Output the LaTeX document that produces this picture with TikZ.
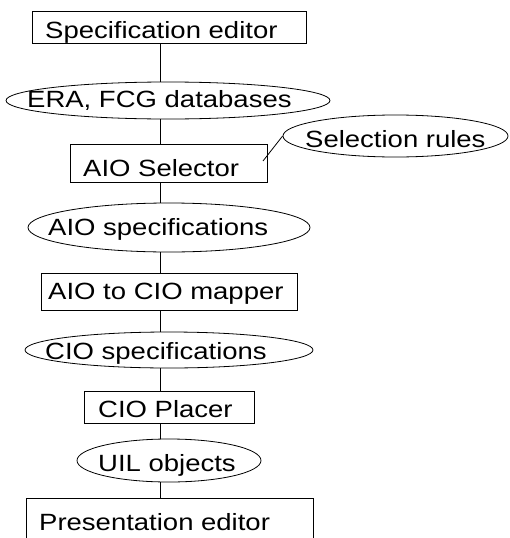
\documentclass[tikz,border=0pt]{standalone}
\usepackage{fontspec}
\setmainfont{Liberation Sans}[FakeStretch=1.17]
\usetikzlibrary{shapes.geometric}

\tikzset{
  stage/.style={draw=black, line width=0.8pt, rectangle, inner sep=0pt},
  dataset/.style={draw=black, line width=0.8pt, ellipse, inner sep=0pt},
  caption/.style={anchor=base west, inner sep=0pt,
    font=\fontsize{23.5}{28}\selectfont},
  link/.style={draw=black, line width=0.8pt}
}

\begin{document}
\begin{tikzpicture}[x=1pt, y=-1pt]
  \useasboundingbox (0,0) rectangle (510,538);
  \clip (0,0) rectangle (510,538);

  % x position of the main flow line
  \coordinate (axis) at (160,0);

  % processing stages and data sets
  \node[stage, minimum width=274pt, minimum height=32pt] (spec) at (169,27) {};
  \node[dataset, minimum width=324pt, minimum height=37pt] (era) at (168,100.5) {};
  \node[stage, minimum width=197pt, minimum height=38pt] (sel) at (168.5,163) {};
  \node[dataset, minimum width=225pt, minimum height=42pt] (rules) at (395.5,136) {};
  \node[dataset, minimum width=282pt, minimum height=49pt] (aiospec) at (169,227.5) {};
  \node[stage, minimum width=256pt, minimum height=37pt] (mapper) at (169,291.5) {};
  \node[dataset, minimum width=288pt, minimum height=36pt] (ciospec) at (169,350) {};
  \node[stage, minimum width=170pt, minimum height=32pt] (placer) at (169,407) {};
  \node[dataset, minimum width=184pt, minimum height=43pt] (uil) at (169,460.5) {};
  \node[stage, minimum width=287pt, minimum height=80pt] (pres) at (169.5,538) {};

  % labels
  \node[caption] (spec-t) at (45,38) {Specification editor};
  \node[caption] (era-t) at (27,107) {ERA, FCG databases};
  \node[caption] (rules-t) at (305,147) {Selection rules};
  \node[caption] (sel-t) at (83,176.5) {AIO Selector};
  \node[caption] (aiospec-t) at (48,235) {AIO specifications};
  \node[caption] (mapper-t) at (48,299) {AIO to CIO mapper};
  \node[caption] (ciospec-t) at (45,359) {CIO specifications};
  \node[caption] (placer-t) at (98,417.5) {CIO Placer};
  \node[caption] (uil-t) at (98,471) {UIL objects};
  \node[caption] (pres-t) at (39,530) {Presentation editor};

  % main flow
  \draw[link] (spec.south -| axis) -- (era.north -| axis);
  \draw[link] (era.south -| axis) -- (sel.north -| axis);
  \draw[link] (sel.south -| axis) -- (aiospec.north -| axis);
  \draw[link] (aiospec.south -| axis) -- (mapper.north -| axis);
  \draw[link] (mapper.south -| axis) -- (ciospec.north -| axis);
  \draw[link] (ciospec.south -| axis) -- (placer.north -| axis);
  \draw[link] (placer.south -| axis) -- (uil.north -| axis);
  \draw[link] (uil.south -| axis) -- (pres.north -| axis);

  % rules feeding the selector
  \coordinate (selin) at (263,161);
  \draw[link] (selin) -- (rules.west);
\end{tikzpicture}
\end{document}
